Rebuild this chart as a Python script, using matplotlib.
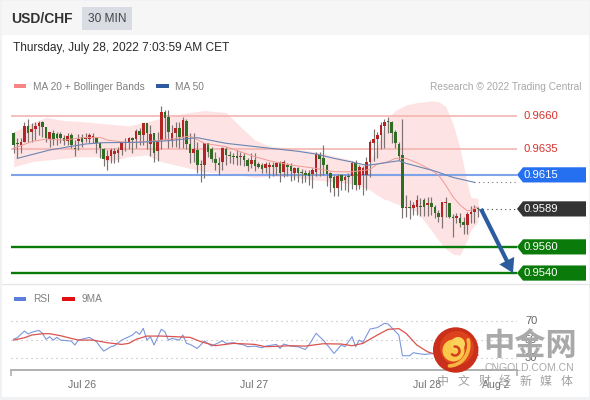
#!/usr/bin/env python3
# USD/CHF 30 min chart with support/resistance levels and RSI pane

import numpy as np
import matplotlib
matplotlib.use('Agg')
import matplotlib.pyplot as plt
from matplotlib.patches import Rectangle, Circle, Polygon

plt.rcParams['font.family'] = ['Liberation Sans', 'Noto Sans CJK SC', 'DejaVu Sans']

### Data, prices are in 1/10000
highs = [9648,9643,9643,9655.2,9657.5,9654.4,9655.7,9656.4,9656.4,9651.8,9647.5,9649.3,9648,9648,9645.5,9646.7,9647.3,9641.6,9646.2,9646.2,
	9646.7,9647.3,9647.3,9644.2,9640.4,9635.3,9634,9635.3,9635.3,9636,9640.4,9642.9,9644.2,9644.2,9649.8,9650.6,9654.9,9654.9,9653.1,9647.3,
	9648,9667.7,9664.6,9664.6,9653.1,9655.7,9655.7,9659,9657.5,9646.7,9646.7,9640.4,9626.3,9639.6,9639.6,9636.5,9632.7,9628.9,9636,9636,
	9633.2,9631.4,9634,9632.7,9631.4,9627.6,9631.4,9631.4,9625.1,9624.3,9625.1,9625.1,9625.1,9625.1,9625.8,9626.3,9623.8,9623.8,9621.2,9621.2,
	9619.2,9618.7,9618.7,9620,9632.7,9632.7,9637.8,9623.3,9617.4,9614.9,9615.6,9615.6,9614.9,9616.1,9625.8,9626.3,9622.5,9621.8,9628.9,9641.6,
	9649.8,9648,9655.7,9657.5,9659,9656.2,9649.3,9640.4,9657.7,9599.6,9595.7,9594.5,9599.6,9597,9597,9597.8,9597.8,9591.9,9588.1,9594.5,
	9598.3,9593.7,9585,9585.5,9586,9583,9586.8,9591.1,9591.9,9590.6]
lows = [9632,9627.6,9631.4,9639.9,9640.4,9640.4,9641.6,9645.5,9644.2,9640.4,9636,9637.8,9637.8,9639.1,9637.8,9637.8,9635.3,9629.7,9634,9636,
	9640.4,9639.6,9639.1,9632,9627.6,9621.8,9618.7,9623.8,9624.3,9625.1,9630.2,9633.5,9634.5,9632,9635.3,9637.8,9637.8,9634.5,9629.4,9625.1,
	9625.8,9634.5,9641.6,9635.3,9636,9636.5,9635.3,9635.3,9634.8,9624.3,9625.1,9616.1,9609.8,9612.3,9628.9,9625.1,9618.7,9614.9,9618.7,9622.5,
	9623.8,9623.3,9622.5,9622.5,9621.8,9618.2,9620,9618.2,9620,9616.1,9616.1,9612.3,9614.1,9614.9,9609.8,9613.1,9614.1,9610.5,9611,9609.8,
	9608.5,9609.8,9607.2,9605.2,9614.1,9614.1,9614.9,9606.5,9602.1,9599.1,9599.1,9603.4,9603.4,9602.1,9603.9,9603.4,9603.9,9599.6,9603.4,9613.1,
	9625.8,9627.6,9634.5,9635.3,9646.7,9639.1,9635.3,9626.3,9581.7,9583,9581,9584.3,9584.3,9583.5,9583.5,9583.5,9584.3,9581.7,9579.2,9574.1,
	9583,9581.7,9567.7,9577.9,9575.3,9570.2,9570.2,9577.9,9578.4,9582.5]
opens = [9646.7,9639,9637.8,9639.9,9652.4,9648,9650.3,9652,9655.4,9651.3,9642.4,9647.3,9646,9646.2,9643.4,9641.1,9645.2,9635.3,9641.1,9644.2,
	9642.4,9642.7,9642.9,9642.9,9639.1,9634.5,9626.3,9629.4,9630.9,9632,9634,9640.4,9640.4,9642.9,9642.2,9648.8,9645.5,9654.4,9638.6,9647.3,
	9633.2,9641.6,9663.3,9659,9641.6,9646.7,9650.6,9644.2,9656.4,9638.3,9632,9634,9622.8,9622.5,9639.1,9634.5,9626.9,9623.8,9625.1,9634.8,
	9630.2,9629.4,9629.4,9628.9,9629.7,9626.3,9623.3,9626.3,9623.3,9622.5,9620.2,9620.7,9622.5,9621.2,9624.3,9617.4,9622.5,9621.8,9616.6,9620,
	9617.4,9616.1,9616.1,9615.6,9617.4,9630.2,9627.6,9622.5,9616.1,9613.1,9604.7,9614.9,9611,9614.1,9614.1,9624.3,9607.2,9614.9,9614.9,9625.1,
	9639.6,9642.4,9645.5,9652.4,9655.7,9655.2,9648,9638.6,9630.2,9589.9,9590.6,9589.4,9590.6,9591.1,9595.7,9591.9,9593.2,9590.6,9586,9583,
	9593.2,9593.2,9582.5,9581.7,9581.7,9579.2,9576.6,9585,9586.8,9589.4]
closes = [9637.8,9638.3,9640.4,9652.4,9647.3,9650,9652.4,9654.6,9651.3,9642.9,9647.5,9642.2,9643.4,9642.9,9641.1,9644.7,9637.8,9634.5,9642.2,9640.4,
	9642.9,9645.2,9645,9639.1,9635.3,9626.9,9629.4,9634,9633.2,9634,9639.1,9639.1,9643.4,9641.6,9648.8,9645.5,9654.4,9647.3,9646.2,9631.4,
	9640.4,9662.8,9658.2,9648,9647.3,9650.6,9644.2,9656.9,9638.3,9631.4,9634.5,9622.5,9622.3,9639.1,9632.7,9626.9,9623.8,9622.5,9635.3,9630.2,
	9629.4,9628.6,9628.1,9629.7,9626.3,9621.8,9626.3,9621.8,9620.7,9619.7,9623.3,9622.5,9621.2,9624.3,9616.6,9625.1,9621.2,9618.2,9620,9616.1,
	9616.1,9614.9,9614.4,9618.7,9630.9,9627.1,9622.5,9615.6,9612.3,9604.7,9614.1,9610.5,9613.6,9613.1,9624.3,9607.2,9620.7,9620,9625.1,9640.4,
	9642.4,9645.5,9653.1,9655.7,9655.2,9646.7,9639.1,9629.7,9589.4,9590.6,9589.4,9591.9,9595.7,9590.1,9590.1,9593.2,9590.6,9586,9582.5,9594,
	9593.7,9583,9581.7,9583.8,9578.4,9576.6,9585,9586.8,9588.9,9588.9]

bb_idx = [1,6,10,15,20,25,27,33,38,42,46,50,54,60,64,68,72,78,85,90,95,99,100,102,103,104,105,107,110,113,117,119,121,123,125,127,128,130]
bb_up = [9648,9654.4,9659,9656.4,9655.7,9654.4,9653.9,9652.4,9655.7,9658.2,9660.8,9662.6,9664.1,9662.6,9651.8,9641.6,9637,9635.3,9632.7,9629.4,
	9626.3,9621.8,9625.1,9636.5,9644.2,9651.8,9658.2,9664.1,9668.4,9670.2,9671.5,9671,9667.2,9654.4,9635.3,9608.5,9597.8,9597]
bb_lo = [9621.2,9625.1,9626.3,9627.6,9628.9,9628.9,9625.1,9628.9,9630.2,9625.1,9622.5,9620,9617.4,9616.1,9614.9,9613.1,9614.1,9613.6,9611,9609.8,
	9608,9604.7,9603.4,9599.6,9597.8,9596.3,9595.7,9593.2,9590.6,9586.8,9572.8,9565.1,9558.7,9554.4,9553.7,9565.1,9572.8,9579.2]
ma20 = [9635.3,9640.4,9642.4,9641.6,9643.4,9643.7,9641.6,9639.6,9640.4,9641.6,9642.9,9644.7,9639.1,9636.5,9632.7,9628.9,9625.8,9622.5,9620,9617.4,
	9617.4,9618.7,9619.2,9623.3,9623.8,9624.3,9625.1,9627.6,9627.6,9624.3,9618.7,9614.9,9607.2,9598.3,9591.9,9587.6,9588.1,9590.6]

ma50_idx = [2,11,21,26,36,44,52,60,70,80,85,90,95,99,102,105,108,110,118,123,129]
ma50 = [9627.6,9634,9638.6,9639.6,9639.9,9641.1,9643.4,9639.1,9636,9633,9630.9,9627.6,9624.8,9622.3,9623.3,9624.6,9625.8,9623.8,9617.9,9613.1,9609.3]

levels = [9660, 9635, 9615, 9589, 9560, 9540]
level_labels = ['0.9660', '0.9635', '0.9615', '0.9589', '0.9560', '0.9540']

rsi_idx = [1,2,4,5,6,8,9,10,11,12,13,14,16,17,18,19,22,24,25,26,28,29,31,33,34,35,36,37,38,39,40,42,43,44,45,47,48,49,50,52,54,56,59,60,62,65,66,68,70,71,74,75,76,78,
	80,82,83,85,87,90,92,93,95,96,97,98,100,102,104,105,108,109,111,112,115,118,122,126,130]
rsi = [50.7,52.1,59.3,56.1,57.9,60,56.8,50.4,53.2,49.6,52.5,49.6,48.9,48.6,44.3,49.6,52.5,47.9,42.5,37.9,42.5,43.6,49.6,53.2,55,58.6,55.7,62.1,49.6,53.2,44.3,61.1,58.6,49.6,51.4,49.6,55,46.1,45,40.7,48.6,43.2,48.9,46.1,46.8,44.3,42.5,43.2,41.4,43.2,45,40.7,45.4,43.2,
	42.5,39.6,44.3,56.8,49.6,35.4,44.3,42.5,53.2,42.5,49.6,47.1,61.4,62.9,67.5,66.8,55,32.9,32.9,36.1,34.3,35.4,40,36,42]
ma9_idx = [1,4,6,9,11,14,17,19,23,27,31,33,35,38,42,46,50,53,57,62,68,71,78,82,87,92,95,98,102,105,108,110,113,116,118,122,130]
ma9 = [49.6,52.1,55,56.4,56.4,54.3,51.4,49.6,49.6,46.8,45,46.1,50.4,53.9,53.9,53.2,52.5,47.9,43.6,46.1,45,42.5,43.6,43.2,45.7,45.4,43.6,46.1,55,61.1,61.8,56.8,44.3,37.1,34.6,33.6,33.6]

day_ticks = [20, 67.8, 115.8, 135]
day_labels = ['Jul 26', 'Jul 27', 'Jul 28', 'Aug 2']
rsi_levels = [70, 50, 30]
slogan = ['中', '文', '财', '经', '新', '媒', '体']

### Page, pixel coordinates
W, H = 590, 400
fig = plt.figure(figsize=(W / 100, H / 100), dpi=100, facecolor='#f1f2f3')

def page_axes(z):
	a = fig.add_axes([0, 0, 1, 1], zorder=z)
	a.set_xlim(0, W)
	a.set_ylim(H, 0)
	a.axis('off')
	a.patch.set_alpha(0)
	return a

bg = page_axes(-1)
bg.add_patch(Rectangle((1.5, 35), 587, 362, fc='white', ec='none'))
bg.add_patch(Rectangle((1.5, 1), 587, 34, fc='#f6f6f7', ec='none'))
bg.add_patch(Rectangle((82, 7), 50, 23, fc='#d9dce2', ec='none'))
bg.plot([1.5, 588.5], [284, 284], color='#e6e6e6', lw=1)
bg.text(11, 19, 'USD/CHF', fontsize=10, fontweight='bold', color='#333333', va='center')
bg.text(107, 19, '30 MIN', fontsize=8.6, color='#444444', va='center', ha='center')
bg.text(13, 48, 'Thursday, July 28, 2022 7:03:59 AM CET', fontsize=8.6, color='#2b2b2b', va='center')
bg.add_patch(Rectangle((14, 84), 12, 4, fc='#f98484', ec='none'))
bg.text(33, 86.5, 'MA 20 + Bollinger Bands', fontsize=7.25, color='#808080', va='center')
bg.add_patch(Rectangle((156, 84), 13, 4, fc='#2f5a9e', ec='none'))
bg.text(175, 86.5, 'MA 50', fontsize=7.25, color='#808080', va='center')
bg.text(581, 86.5, 'Research © 2022 Trading Central', fontsize=7.25, color='#a8a8a8', va='center', ha='right')
bg.add_patch(Rectangle((14, 297), 12, 4, fc='#5b7fdb', ec='none'))
bg.text(33, 299.5, 'RSI', fontsize=7.25, color='#808080', va='center')
bg.add_patch(Rectangle((62, 297), 13, 4, fc='#e01010', ec='none'))
bg.text(82, 299.5, '9MA', fontsize=7.25, color='#808080', va='center')

### Price pane
px_x = 3.6
x0, x1 = 1 - 2.67 / px_x, 1 + 503.33 / px_x
ax = fig.add_axes([11 / W, 1 - 283 / H, 506 / W, 183 / H])
ax.patch.set_alpha(0)
ax.set_xlim(x0, x1)
ax.set_ylim(9532.4, 9672.2)
ax.axis('off')

ax.fill_between(bb_idx, bb_lo, bb_up, color='#fde3e3', lw=0, zorder=1)
ax.plot(bb_idx, ma20, color='#f09a96', lw=0.7, zorder=4)

idx = np.arange(1, len(highs) + 1)
o, c = np.array(opens), np.array(closes)
body_col = np.where(c >= o, '#b32424', '#2f6e22')
ax.vlines(idx, lows, highs, color='#7d7272', lw=0.85, zorder=2)
ax.bar(idx, np.maximum(np.abs(c - o), 0.7), bottom=np.minimum(o, c), width=0.72, color=body_col, lw=0, zorder=3)
ax.plot(ma50_idx, ma50, color='#6a85b3', lw=0.8, zorder=4)
ax.plot([ma50_idx[-1], x1], [ma50[-1], ma50[-1]], color='#777777', lw=0.8, ls=(0, (1, 3)), zorder=4)
ax.plot([len(highs), x1], [levels[3], levels[3]], color='#444444', lw=0.8, ls=(0, (1, 3)), zorder=4)

ax.hlines(levels[:2], x0, x1, color='#f4b5b1', lw=1.2, zorder=1.5)
ax.hlines(levels[2], x0, x1, color='#7fa3e8', lw=1.5, zorder=1.5)
ax.hlines(levels[4:], x0, x1, color='#0a7a0a', lw=1.7, zorder=1.5)

for lv, lab in zip(levels[:2], level_labels[:2]):
	ax.text(x1 + 7 / px_x, lv, lab, fontsize=8.1, color='#d8312c', va='center', clip_on=False)
tag_cols = {2: '#2470f0', 3: '#333333', 4: '#0a7a0a', 5: '#0a7a0a'}
for i, col in tag_cols.items():
	lv = levels[i]
	hh = 5.8
	tx = [x1, x1 + 6 / px_x, x1 + 69 / px_x, x1 + 69 / px_x, x1 + 6 / px_x]
	ty = [lv, lv + hh, lv + hh, lv - hh, lv - hh]
	ax.add_patch(Polygon(np.column_stack([tx, ty]), closed=True, fc=col, ec='none', clip_on=False, zorder=6))
	ax.text(x1 + 7 / px_x, lv, level_labels[i], fontsize=8.1, color='white', va='center', clip_on=False, zorder=7)

ax.annotate('', xy=(139.7, 9540), xytext=(130.8, 9589), zorder=8,
	arrowprops=dict(width=3, headwidth=12, headlength=10, color='#2b5c9e', lw=0, shrink=0))

### RSI pane
ax2 = fig.add_axes([11 / W, 1 - 370 / H, 506 / W, 60 / H])
ax2.patch.set_alpha(0)
ax2.set_xlim(x0, x1)
ax2.set_ylim(17.7, 81.7)
for s in ['top', 'left', 'right']:
	ax2.spines[s].set_visible(False)
ax2.spines['bottom'].set_color('#b0b0b0')
ax2.spines['bottom'].set_linewidth(1.4)
ax2.set_yticks([])
ax2.hlines(rsi_levels, x0, x1, color='#b5b5b5', lw=0.8, ls=(0, (1, 3.5)))
ax2.plot(rsi_idx, rsi, color='#7c97de', lw=0.8)
ax2.plot(ma9_idx, ma9, color='#d9534f', lw=0.9)
ax2.set_xticks(day_ticks)
ax2.set_xticklabels(day_labels, fontsize=7.6, color='#707070')
ax2.tick_params(axis='x', length=0, pad=7)
ax2.set_xticks([x0, x1], minor=True)
ax2.tick_params(axis='x', which='minor', length=4, width=1.2, color='#b0b0b0')
for v in rsi_levels:
	ax2.text(x1 + 8 / px_x, v, str(v), fontsize=8, color='#666666', va='center', clip_on=False)

### Watermark
top = page_axes(5)
top.add_patch(Circle((455.7, 350), 22.7, fc='#c92f1a', ec='none'))
top.add_patch(Circle((457, 348), 17, fc='#dc431c', ec='none'))
top.add_patch(Circle((453.5, 350.5), 11, fc='#fbc84c', ec='none'))
top.add_patch(Circle((458, 344), 7, fc='#fbd25a', ec='none'))
t = np.linspace(1.0, 5.0, 30)
top.plot(455 + 4.5 * np.cos(t + 3.6), 351 + 4.5 * np.sin(t + 3.6), color='#d2401c', lw=1.8, solid_capstyle='round')
t = np.linspace(0.1, 1.9, 20)
top.plot(449 + 22 * np.cos(t - 0.35) * 0.9, 345 + 22 * np.sin(t - 0.35) * 0.95, color='#f6b640', lw=2.6, solid_capstyle='round')
top.text(530, 347, '中金网', fontsize=22.5, fontweight='bold', color='#a9a9a9', ha='center', va='center')
top.text(529.5, 368, 'CNGOLD.COM.CN', fontsize=7.5, color='#a9a9a9', ha='center', va='center')
for i, ch in enumerate(slogan):
	top.text(443 + 20.6 * i, 382, ch, fontsize=8.6, color='#a0a0a0', ha='center', va='center')

fig.savefig('out.png', dpi=100, facecolor=fig.get_facecolor())
